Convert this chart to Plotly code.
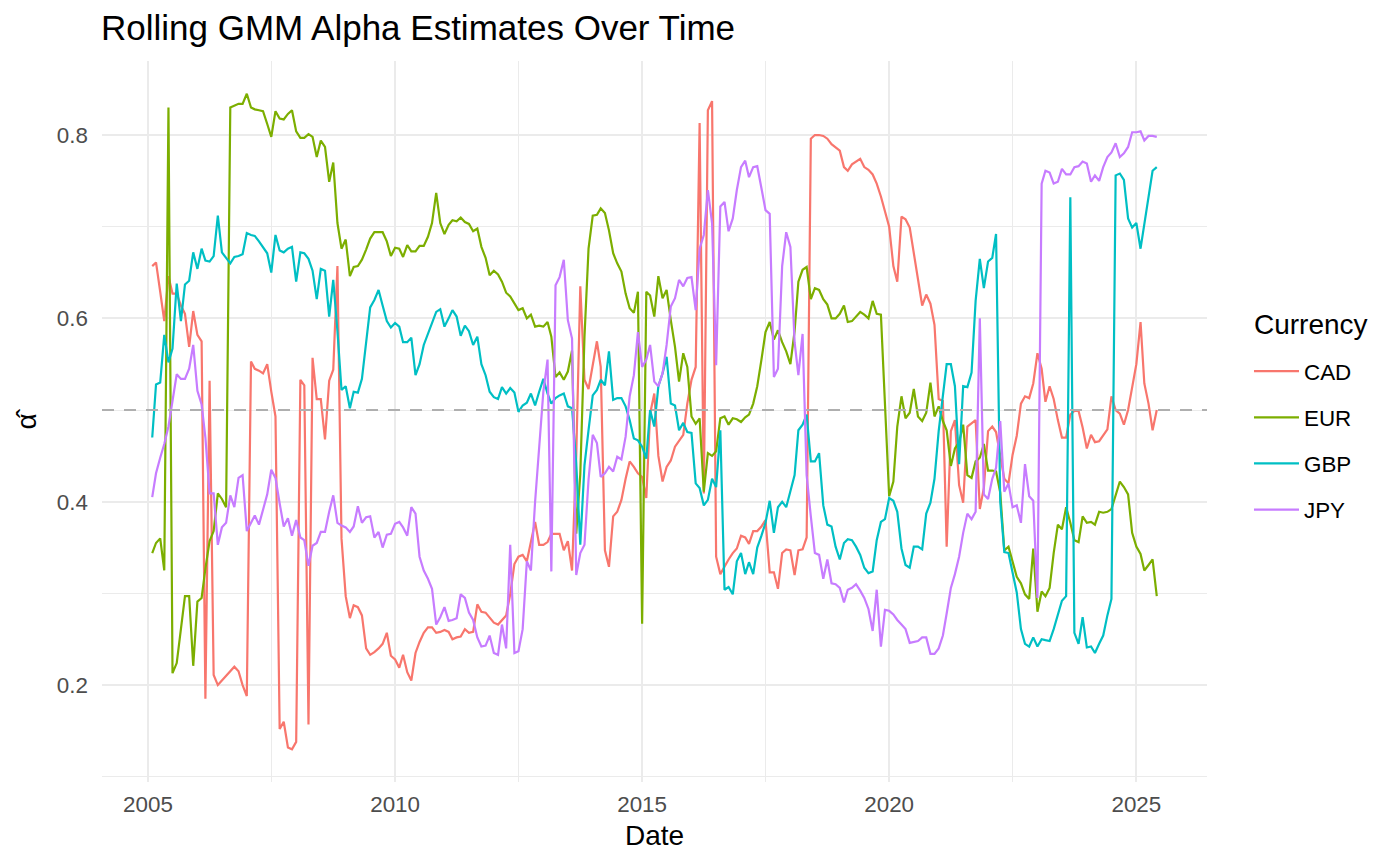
import pandas as pd
import plotly.graph_objects as go

# Monthly rolling GMM alpha estimates, Feb 2005 .. Jun 2025
start_month = "2005-02-01"
currencies = ["CAD", "EUR", "GBP", "JPY"]
colors = ["#F8766D", "#7CAE00", "#00BFC4", "#C77CFF"]

cad = [
    0.657, 0.661, 0.629, 0.597, 0.646, 0.627, 0.627, 0.614, 0.605, 0.569,
    0.608, 0.582, 0.575, 0.185, 0.532, 0.211, 0.200, 0.205, 0.210, 0.215,
    0.220, 0.215, 0.200, 0.188, 0.553, 0.545, 0.543, 0.540, 0.550, 0.520,
    0.493, 0.152, 0.160, 0.132, 0.130, 0.138, 0.533, 0.527, 0.157, 0.557,
    0.512, 0.512, 0.468, 0.532, 0.544, 0.657, 0.360, 0.297, 0.273, 0.287,
    0.285, 0.276, 0.240, 0.233, 0.236, 0.240, 0.245, 0.257, 0.232, 0.228,
    0.219, 0.233, 0.214, 0.205, 0.235, 0.247, 0.257, 0.263, 0.263, 0.257,
    0.258, 0.260, 0.258, 0.250, 0.252, 0.253, 0.261, 0.257, 0.258, 0.288,
    0.280, 0.279, 0.274, 0.268, 0.266, 0.271, 0.276, 0.299, 0.332, 0.340,
    0.342, 0.335, 0.358, 0.378, 0.353, 0.353, 0.356, 0.365, 0.365, 0.365,
    0.347, 0.357, 0.325, 0.450, 0.635, 0.533, 0.523, 0.547, 0.575, 0.547,
    0.347, 0.329, 0.384, 0.389, 0.402, 0.425, 0.444, 0.438, 0.431, 0.427,
    0.404, 0.496, 0.518, 0.450, 0.422, 0.438, 0.445, 0.460, 0.467, 0.473,
    0.507, 0.533, 0.547, 0.813, 0.409, 0.827, 0.837, 0.340, 0.321, 0.330,
    0.337, 0.344, 0.349, 0.363, 0.361, 0.354, 0.368, 0.368, 0.373, 0.380,
    0.323, 0.323, 0.305, 0.344, 0.348, 0.347, 0.320, 0.347, 0.348, 0.361,
    0.796, 0.800, 0.800, 0.799, 0.796, 0.790, 0.787, 0.783, 0.765, 0.761,
    0.768, 0.771, 0.774, 0.765, 0.762, 0.757, 0.747, 0.733, 0.718, 0.700,
    0.657, 0.640, 0.711, 0.708, 0.699, 0.671, 0.640, 0.614, 0.626, 0.616,
    0.593, 0.512, 0.510, 0.351, 0.477, 0.489, 0.418, 0.399, 0.482, 0.486,
    0.489, 0.392, 0.415, 0.477, 0.482, 0.476, 0.450, 0.425, 0.420, 0.451,
    0.472, 0.507, 0.515, 0.513, 0.529, 0.562, 0.545, 0.509, 0.526, 0.512,
    0.489, 0.470, 0.470, 0.495, 0.499, 0.499, 0.481, 0.458, 0.473, 0.465,
    0.466, 0.472, 0.479, 0.515, 0.500, 0.496, 0.484, 0.500, 0.526, 0.550,
    0.596, 0.529, 0.507, 0.478, 0.500,
]

eur = [
    0.344, 0.355, 0.360, 0.325, 0.830, 0.213, 0.224, 0.262, 0.297, 0.297,
    0.221, 0.291, 0.295, 0.327, 0.357, 0.368, 0.409, 0.403, 0.394, 0.830,
    0.832, 0.834, 0.834, 0.845, 0.830, 0.828, 0.827, 0.826, 0.812, 0.798,
    0.826, 0.818, 0.817, 0.823, 0.827, 0.804, 0.797, 0.797, 0.801, 0.798,
    0.776, 0.794, 0.787, 0.749, 0.770, 0.704, 0.676, 0.686, 0.646, 0.656,
    0.657, 0.664, 0.675, 0.687, 0.694, 0.694, 0.694, 0.684, 0.668, 0.677,
    0.676, 0.667, 0.680, 0.673, 0.673, 0.679, 0.679, 0.689, 0.704, 0.737,
    0.704, 0.692, 0.702, 0.707, 0.706, 0.710, 0.705, 0.703, 0.695, 0.698,
    0.678, 0.666, 0.647, 0.652, 0.648, 0.640, 0.628, 0.624, 0.616, 0.609,
    0.611, 0.600, 0.604, 0.591, 0.592, 0.591, 0.596, 0.580, 0.536, 0.541,
    0.533, 0.542, 0.565, 0.365, 0.430, 0.580, 0.676, 0.712, 0.713, 0.720,
    0.715, 0.696, 0.671, 0.660, 0.651, 0.627, 0.611, 0.606, 0.629, 0.267,
    0.629, 0.625, 0.602, 0.646, 0.622, 0.631, 0.598, 0.569, 0.531, 0.562,
    0.547, 0.493, 0.485, 0.491, 0.411, 0.453, 0.450, 0.455, 0.491, 0.493,
    0.484, 0.491, 0.490, 0.487, 0.492, 0.495, 0.507, 0.526, 0.555, 0.585,
    0.596, 0.577, 0.587, 0.574, 0.564, 0.550, 0.586, 0.640, 0.653, 0.656,
    0.621, 0.633, 0.631, 0.621, 0.615, 0.600, 0.600, 0.605, 0.614, 0.596,
    0.597, 0.602, 0.607, 0.604, 0.600, 0.619, 0.605, 0.604, 0.500, 0.406,
    0.422, 0.482, 0.515, 0.491, 0.497, 0.523, 0.493, 0.488, 0.497, 0.530,
    0.493, 0.504, 0.488, 0.478, 0.439, 0.458, 0.465, 0.484, 0.429, 0.426,
    0.444, 0.448, 0.463, 0.434, 0.434, 0.433, 0.410, 0.347, 0.351, 0.335,
    0.318, 0.311, 0.299, 0.294, 0.349, 0.280, 0.302, 0.297, 0.306, 0.344,
    0.375, 0.370, 0.394, 0.377, 0.358, 0.356, 0.384, 0.377, 0.378, 0.375,
    0.389, 0.388, 0.389, 0.392, 0.408, 0.422, 0.416, 0.408, 0.366, 0.351,
    0.343, 0.325, 0.331, 0.337, 0.297,
]

gbp = [
    0.470, 0.528, 0.530, 0.582, 0.552, 0.567, 0.638, 0.597, 0.637, 0.641,
    0.672, 0.654, 0.676, 0.663, 0.662, 0.668, 0.712, 0.672, 0.666, 0.660,
    0.667, 0.668, 0.670, 0.693, 0.691, 0.690, 0.684, 0.678, 0.671, 0.650,
    0.691, 0.674, 0.672, 0.676, 0.678, 0.640, 0.672, 0.671, 0.665, 0.652,
    0.621, 0.654, 0.652, 0.602, 0.642, 0.586, 0.522, 0.526, 0.502, 0.520,
    0.519, 0.534, 0.571, 0.612, 0.620, 0.631, 0.614, 0.597, 0.590, 0.595,
    0.591, 0.574, 0.574, 0.579, 0.538, 0.550, 0.571, 0.583, 0.595, 0.607,
    0.610, 0.591, 0.600, 0.609, 0.602, 0.581, 0.592, 0.586, 0.571, 0.580,
    0.550, 0.538, 0.520, 0.514, 0.512, 0.525, 0.518, 0.524, 0.519, 0.498,
    0.505, 0.508, 0.518, 0.505, 0.520, 0.534, 0.518, 0.507, 0.513, 0.516,
    0.518, 0.504, 0.502, 0.442, 0.353, 0.440, 0.478, 0.516, 0.522, 0.533,
    0.527, 0.564, 0.511, 0.513, 0.513, 0.504, 0.489, 0.469, 0.467, 0.460,
    0.447, 0.500, 0.482, 0.526, 0.540, 0.558, 0.507, 0.505, 0.478, 0.486,
    0.476, 0.475, 0.420, 0.415, 0.396, 0.402, 0.425, 0.416, 0.478, 0.304,
    0.307, 0.299, 0.335, 0.344, 0.321, 0.334, 0.321, 0.350, 0.363, 0.377,
    0.401, 0.366, 0.394, 0.400, 0.394, 0.413, 0.429, 0.478, 0.484, 0.495,
    0.444, 0.444, 0.453, 0.396, 0.375, 0.373, 0.351, 0.337, 0.355, 0.359,
    0.358, 0.351, 0.342, 0.328, 0.322, 0.324, 0.358, 0.378, 0.381, 0.404,
    0.401, 0.389, 0.349, 0.331, 0.328, 0.351, 0.351, 0.348, 0.387, 0.399,
    0.425, 0.477, 0.517, 0.550, 0.550, 0.526, 0.441, 0.526, 0.525, 0.541,
    0.619, 0.665, 0.633, 0.662, 0.666, 0.692, 0.400, 0.345, 0.344, 0.321,
    0.301, 0.261, 0.245, 0.242, 0.252, 0.242, 0.250, 0.249, 0.248, 0.261,
    0.277, 0.292, 0.297, 0.732, 0.257, 0.245, 0.274, 0.241, 0.242, 0.235,
    0.245, 0.254, 0.276, 0.294, 0.756, 0.758, 0.751, 0.709, 0.699, 0.704,
    0.676, 0.704, 0.735, 0.761, 0.765,
]

jpy = [
    0.405, 0.431, 0.448, 0.463, 0.482, 0.508, 0.539, 0.534, 0.534, 0.545,
    0.571, 0.521, 0.506, 0.470, 0.409, 0.409, 0.353, 0.372, 0.377, 0.407,
    0.394, 0.426, 0.429, 0.368, 0.377, 0.385, 0.375, 0.392, 0.408, 0.435,
    0.426, 0.398, 0.373, 0.382, 0.363, 0.380, 0.361, 0.358, 0.330, 0.352,
    0.355, 0.367, 0.367, 0.389, 0.407, 0.377, 0.374, 0.372, 0.367, 0.373,
    0.395, 0.377, 0.383, 0.384, 0.361, 0.367, 0.350, 0.364, 0.365, 0.376,
    0.378, 0.372, 0.363, 0.394, 0.387, 0.340, 0.325, 0.316, 0.305, 0.266,
    0.274, 0.285, 0.270, 0.271, 0.273, 0.299, 0.295, 0.279, 0.271, 0.252,
    0.242, 0.243, 0.254, 0.235, 0.233, 0.266, 0.240, 0.353, 0.235, 0.237,
    0.261, 0.335, 0.325, 0.400, 0.460, 0.520, 0.555, 0.324, 0.636, 0.645,
    0.664, 0.598, 0.578, 0.320, 0.344, 0.353, 0.424, 0.473, 0.464, 0.427,
    0.431, 0.438, 0.433, 0.449, 0.446, 0.471, 0.515, 0.538, 0.585, 0.547,
    0.555, 0.571, 0.531, 0.526, 0.540, 0.571, 0.613, 0.622, 0.642, 0.635,
    0.644, 0.645, 0.609, 0.676, 0.691, 0.740, 0.704, 0.549, 0.722, 0.727,
    0.695, 0.709, 0.740, 0.765, 0.772, 0.754, 0.765, 0.766, 0.742, 0.718,
    0.714, 0.536, 0.545, 0.657, 0.694, 0.678, 0.574, 0.538, 0.583, 0.429,
    0.384, 0.344, 0.342, 0.316, 0.337, 0.311, 0.310, 0.306, 0.290, 0.304,
    0.306, 0.310, 0.303, 0.295, 0.283, 0.259, 0.304, 0.242, 0.282, 0.281,
    0.277, 0.271, 0.266, 0.261, 0.246, 0.247, 0.248, 0.252, 0.252, 0.234,
    0.234, 0.240, 0.254, 0.278, 0.306, 0.321, 0.340, 0.366, 0.387, 0.381,
    0.389, 0.600, 0.408, 0.403, 0.425, 0.437, 0.488, 0.411, 0.420, 0.394,
    0.396, 0.377, 0.441, 0.406, 0.401, 0.295, 0.747, 0.761, 0.759, 0.747,
    0.749, 0.763, 0.757, 0.757, 0.765, 0.766, 0.771, 0.769, 0.749, 0.756,
    0.750, 0.765, 0.776, 0.781, 0.791, 0.776, 0.780, 0.787, 0.803, 0.803,
    0.804, 0.794, 0.799, 0.799, 0.798,
]

y_ticks = [0.2, 0.4, 0.6, 0.8]
y_minor = [0.1, 0.3, 0.5, 0.7]
x_tick_years = [2005, 2010, 2015, 2020, 2025]
x_minor_years = [2007, 2012, 2017, 2022]
ref_level = 0.5

series = [cad, eur, gbp, jpy]
n = max(len(s) for s in series)
dates = pd.date_range(start_month, periods=n, freq="MS")

FONT = "Liberation Sans, Arial, Helvetica, sans-serif"
GRID = "#EBEBEB"
BASE = 28

fig = go.Figure()
for name, col, vals in zip(currencies, colors, series):
    fig.add_trace(go.Scatter(
        x=dates[:len(vals)], y=vals, mode="lines", name=name,
        legendgroup=name,
        line=dict(color=col, width=2.2),
    ))

fig.add_hline(y=ref_level, line=dict(color="#AFAFAF", width=2, dash="12px,10px"), layer="above")

xmin = dates[0] - (dates[-1] - dates[0]) * 0.05
xmax = dates[-1] + (dates[-1] - dates[0]) * 0.05
allv = [v for s in series for v in s]
span = max(allv) - min(allv)
ymin = min(allv) - 0.05 * span
ymax = max(allv) + 0.05 * span

# legend title drawn as text beside the legend
fig.add_annotation(text="Currency", xref="paper", yref="paper",
                   x=1.0405, xanchor="left", y=0.635, yanchor="middle",
                   showarrow=False, font=dict(size=BASE, color="#000000", family=FONT))

fig.update_layout(
    width=1400, height=865,
    paper_bgcolor="white", plot_bgcolor="white",
    margin=dict(l=94, r=201, t=53, b=91),
    font=dict(family=FONT, color="#000000"),
    title=dict(text="Rolling GMM Alpha Estimates Over Time",
               x=93 / 1400, xref="container", xanchor="left",
               y=1 - 20 / 865, yref="container", yanchor="middle",
               font=dict(size=35, color="#000000", family=FONT)),
    legend=dict(
        font=dict(size=BASE * 0.8, color="#000000"),
        x=1.038, xanchor="left", y=0.599, yanchor="top",
        tracegroupgap=14, itemwidth=45,
        bgcolor="rgba(0,0,0,0)",
    ),
    xaxis=dict(
        range=[xmin, xmax],
        tickvals=[pd.Timestamp(f"{y}-01-01") for y in x_tick_years],
        ticktext=[str(y) for y in x_tick_years],
        showgrid=True, gridcolor=GRID, gridwidth=1.8,
        minor=dict(tickvals=[pd.Timestamp(f"{y}-07-02") for y in x_minor_years],
                   showgrid=True, gridcolor=GRID, gridwidth=0.9),
        zeroline=False, showline=False, ticks="",
        tickfont=dict(size=BASE * 0.8, color="#4D4D4D"),
        ticklabelstandoff=7,
        title=dict(text="Date", font=dict(size=BASE, color="#000000"), standoff=8),
    ),
    yaxis=dict(
        range=[ymin, ymax],
        tickvals=y_ticks, ticktext=[f"{t:.1f}" for t in y_ticks],
        showgrid=True, gridcolor=GRID, gridwidth=1.8,
        minor=dict(tickvals=y_minor, showgrid=True, gridcolor=GRID, gridwidth=0.9),
        zeroline=False, showline=False, ticks="",
        tickfont=dict(size=BASE * 0.8, color="#4D4D4D"),
        ticklabelstandoff=13,
        title=dict(text="\u03b1\u0302", font=dict(size=BASE, color="#000000"), standoff=12),
    ),
)

fig.write_html("out.html")
